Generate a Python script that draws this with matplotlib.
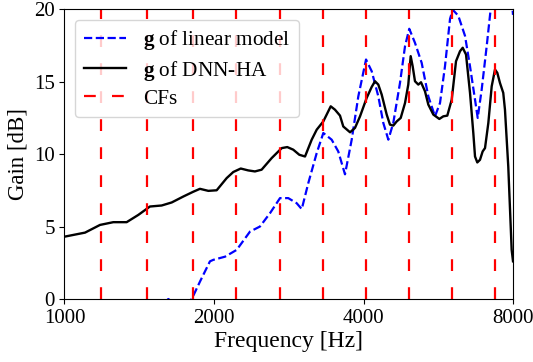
import matplotlib
matplotlib.use('Agg')
import matplotlib.pyplot as plt

plt.rcParams['font.family'] = ['Liberation Serif', 'DejaVu Serif']
plt.rcParams['mathtext.fontset'] = 'custom'
plt.rcParams['mathtext.rm'] = 'Liberation Serif'
plt.rcParams['mathtext.bf'] = 'Liberation Serif:bold'

# gain of the DNN-HA (black solid)
dnn_freq = [1000, 1100, 1179, 1254, 1334, 1408, 1486, 1569, 1644, 1735,
            1817, 1874, 1948, 2025, 2121, 2187, 2264, 2344, 2418, 2494,
            2613, 2738, 2809, 2888, 2970, 3050, 3146, 3220, 3320, 3436,
            3504, 3587, 3642, 3758, 3845, 3936, 4059, 4155, 4219, 4284,
            4352, 4454, 4522, 4592, 4666, 4753, 4849, 4923, 4978, 5024,
            5078, 5157, 5222, 5319, 5402, 5529, 5685, 5791, 5899, 6021,
            6142, 6257, 6336, 6434, 6554, 6655, 6708, 6779, 6864, 6950,
            7026, 7135, 7247, 7359, 7438, 7531, 7646, 7707, 7826, 7950, 8000]
dnn_gain = [4.3, 4.58, 5.11, 5.3, 5.3, 5.8, 6.38, 6.45, 6.66, 7.07,
            7.4, 7.6, 7.46, 7.5, 8.34, 8.76, 9.0, 8.87, 8.8, 8.92,
            9.72, 10.41, 10.48, 10.3, 9.95, 9.83, 10.99, 11.68, 12.25, 13.29,
            13.06, 12.65, 11.9, 11.5, 11.8, 12.6, 13.87, 14.63, 15.02, 14.79,
            14.1, 12.72, 12.03, 11.96, 12.25, 12.49, 13.52, 14.79, 16.75, 16.05,
            15.02, 14.79, 14.95, 14.33, 13.41, 12.72, 12.42, 12.6, 12.65, 13.75,
            16.4, 17.09, 17.33, 16.86, 14.22, 11.45, 9.83, 9.42, 9.6, 10.18,
            10.41, 12.14, 14.67, 15.83, 15.6, 14.9, 14.22, 13.06, 9.14, 3.39, 2.6]

# gain of the linear model (blue dashed)
lin_freq = [1000, 1300, 1486, 1560, 1618, 1680, 1790, 1804, 1874, 1963,
            1993, 2105, 2222, 2363, 2475, 2593, 2716, 2822, 2934, 3004,
            3097, 3220, 3320, 3451, 3558, 3671, 3787, 3905, 4047, 4155,
            4284, 4385, 4488, 4592, 4737, 4849, 4945, 5078, 5238, 5402,
            5572, 5703, 5836, 5974, 6050, 6207, 6404, 6554, 6708, 6792,
            6918, 7081, 7213, 7430, 7707, 7850, 8000]
lin_gain = [-5.0, -2.5, -1.0, -0.6, 0.0, -0.4, -0.1, 0.0, 1.2, 2.6,
            2.7, 2.92, 3.39, 4.65, 5.0, 5.92, 6.96, 6.96, 6.61, 6.2,
            8.0, 10.07, 11.45, 10.99, 10.18, 8.6, 10.99, 13.98, 16.52, 15.71,
            13.98, 12.14, 10.99, 12.14, 14.9, 17.44, 18.64, 17.67, 16.29, 13.98,
            12.6, 13.52, 16.05, 19.32, 19.95, 19.54, 18.15, 16.05, 13.75, 12.49,
            14.44, 17.44, 20.0, 23.0, 23.5, 23.0, 19.6]

# centre frequencies of the filter bank
cfs = [1184, 1468, 1812, 2218, 2716, 3320, 4052, 4939, 6029, 7350]

fig = plt.figure(figsize=(5.33, 3.62), dpi=100)
ax = fig.add_axes([0.121, 0.174, 0.8415, 0.801])

ax.plot(lin_freq, lin_gain, '--', color='blue', lw=1.6,
        label=r'$\mathbf{g}$ of linear model')
ax.plot(dnn_freq, dnn_gain, '-', color='black', lw=1.7,
        label=r'$\mathbf{g}$ of DNN-HA')
for i, cf in enumerate(cfs):
    ax.axvline(cf, color='red', lw=1.6, linestyle=(0, (5.3, 7.3)),
               label='CFs' if i == 0 else None)

ax.set_xscale('log')
ax.set_xlim(1000, 8000)
ax.set_ylim(0, 20)
ax.set_xticks([1000, 2000, 4000, 8000])
ax.set_xticklabels(['1000', '2000', '4000', '8000'])
ax.minorticks_off()
ax.set_yticks([0, 5, 10, 15, 20])
ax.tick_params(labelsize=15)
ax.set_xlabel('Frequency [Hz]', fontsize=17, labelpad=2)
ax.set_ylabel('Gain [dB]', fontsize=16.5)
ax.legend(loc='upper left', fontsize=15.3, handlelength=2.0,
          labelspacing=0.3)

fig.savefig('out.png', dpi=100)
